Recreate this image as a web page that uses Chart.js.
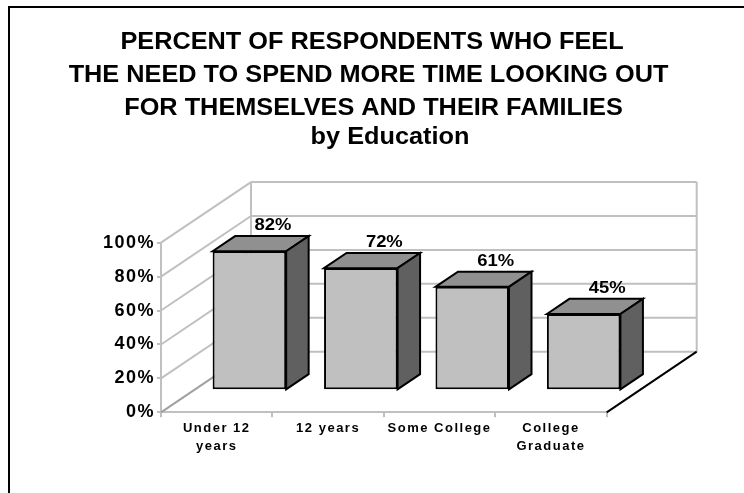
<!DOCTYPE html>
<html>
<head>
<meta charset="utf-8">
<script src="https://cdn.jsdelivr.net/npm/chart.js@4.4.1/dist/chart.umd.min.js"></script>
<style>
  html, body { margin: 0; padding: 0; background: #fff; }
  canvas { display: block; }
</style>
</head>
<body>
<canvas id="eduChart" width="744" height="493"></canvas>
<script>
const titleLines = [
  "PERCENT OF RESPONDENTS WHO FEEL",
  "THE NEED TO SPEND MORE TIME LOOKING OUT",
  "FOR THEMSELVES AND THEIR FAMILIES",
  "by Education"
];
const categories = [["Under 12", "years"], "12 years", "Some College", ["College", "Graduate"]];
const percents = [82, 72, 61, 45];
const yTicks = [0, 20, 40, 60, 80, 100];

// title line placement (centre x, baseline y)
const TITLE_POS = [[372, 48.5], [368.5, 81.5], [373.5, 114.5], [390, 144]];

// oblique "3D" box: full depth offset, and where the bars sit inside it
const DEPTH = { dx: 90, dy: -60.6 };
const BAR_FRONT = 0.363;
const BAR_DEPTH = 0.25;

const WALL = "#c0c0c0";
const FRONT = "#c0c0c0";
const TOP = "#909090";
const SIDE = "#606060";
const FONT = "'Liberation Sans', Arial, sans-serif";

function poly(ctx, pts, fill) {
  ctx.beginPath();
  ctx.moveTo(pts[0][0], pts[0][1]);
  for (let i = 1; i < pts.length; i++) ctx.lineTo(pts[i][0], pts[i][1]);
  ctx.closePath();
  ctx.fillStyle = fill;
  ctx.fill();
  ctx.stroke();
}

// text drawn a bit wider than the font's own proportions
function wideText(ctx, text, x, y, stretch) {
  ctx.save();
  ctx.translate(x, y);
  ctx.scale(stretch, 1);
  ctx.fillText(text, 0, 0);
  ctx.restore();
}

const box3d = {
  id: "box3d",
  beforeDraw(chart) {
    const ctx = chart.ctx;
    ctx.save();
    ctx.fillStyle = "#000";
    ctx.fillRect(8, 6, chart.width - 8, 2);
    ctx.fillRect(8, 6, 2, chart.height - 6);
    ctx.letterSpacing = "0px";
    ctx.font = "bold 23px " + FONT;
    ctx.textAlign = "center";
    ctx.textBaseline = "alphabetic";
    titleLines.forEach((line, i) => wideText(ctx, line, TITLE_POS[i][0], TITLE_POS[i][1], 1.1));
    ctx.restore();
    // tick labels drawn by the scales get a little tracking
    ctx.letterSpacing = "1.5px";
  },
  beforeDatasetsDraw(chart) {
    const { ctx, chartArea: a } = chart;
    const y = chart.scales.y;
    const { dx, dy } = DEPTH;
    ctx.save();
    ctx.lineWidth = 2;
    ctx.strokeStyle = WALL;
    ctx.beginPath();
    yTicks.forEach(v => {
      const py = y.getPixelForValue(v);
      if (v > 0) {
        ctx.moveTo(a.left, py);
        ctx.lineTo(a.left + dx, py + dy);
      }
      ctx.moveTo(a.left + dx, py + dy);
      ctx.lineTo(a.right + dx, py + dy);
    });
    ctx.moveTo(a.left + dx, a.top + dy);
    ctx.lineTo(a.left + dx, a.bottom + dy);
    ctx.moveTo(a.right + dx, a.top + dy);
    ctx.lineTo(a.right + dx, a.bottom + dy);
    ctx.stroke();

    // floor edges
    ctx.strokeStyle = "#a0a0a0";
    ctx.beginPath();
    ctx.moveTo(a.left, a.bottom);
    ctx.lineTo(a.left + dx, a.bottom + dy);
    ctx.stroke();
    ctx.strokeStyle = "#000";
    ctx.beginPath();
    ctx.moveTo(a.right, a.bottom);
    ctx.lineTo(a.right + dx, a.bottom + dy);
    ctx.stroke();
    ctx.restore();
  },
  beforeDatasetDraw(chart) {
    chart.ctx.save();
    chart.ctx.translate(DEPTH.dx * BAR_FRONT, DEPTH.dy * BAR_FRONT);
  },
  afterDatasetDraw(chart, args) {
    const ctx = chart.ctx;
    ctx.restore();
    const fx = DEPTH.dx * BAR_FRONT, fy = DEPTH.dy * BAR_FRONT;
    const bx = DEPTH.dx * BAR_DEPTH, by = DEPTH.dy * BAR_DEPTH;
    const values = chart.data.datasets[args.index].data;
    ctx.save();
    ctx.lineWidth = 2;
    ctx.strokeStyle = "#000";
    ctx.lineJoin = "miter";
    ctx.letterSpacing = "0px";
    args.meta.data.forEach((bar, i) => {
      const { x, y, base, width } = bar.getProps(["x", "y", "base", "width"], true);
      const l = x - width / 2 + fx, r = x + width / 2 + fx;
      const t = y + fy, b = base + fy;
      poly(ctx, [[l, t], [l + bx, t + by], [r + bx, t + by], [r, t]], TOP);
      poly(ctx, [[r, t], [r + bx, t + by], [r + bx, b + by], [r, b]], SIDE);
      ctx.fillStyle = "#000";
      ctx.font = "bold 16px " + FONT;
      ctx.textAlign = "center";
      ctx.textBaseline = "alphabetic";
      wideText(ctx, values[i] + "%", x + fx + bx + 1, t + by - 6, 1.15);
    });
    ctx.restore();
  }
};

Chart.defaults.font.family = FONT;
Chart.defaults.color = "#000";

new Chart(document.getElementById("eduChart"), {
  type: "bar",
  data: {
    labels: categories,
    datasets: [{
      data: percents,
      backgroundColor: FRONT,
      borderColor: "#000",
      borderWidth: 2,
      borderSkipped: false,
      categoryPercentage: 1,
      barPercentage: 0.66,
      clip: false
    }]
  },
  options: {
    responsive: false,
    animation: false,
    layout: { padding: { left: 101, right: 137.3, top: 242.7, bottom: 30.7 } },
    plugins: {
      legend: { display: false },
      tooltip: { enabled: false }
    },
    scales: {
      x: {
        grid: { drawOnChartArea: false, tickLength: 5, color: WALL, lineWidth: 2, offset: true },
        border: { color: WALL, width: 2 },
        ticks: {
          color: "#000",
          font: { size: 13, weight: "bold", lineHeight: 18 / 13 },
          padding: 2.5,
          maxRotation: 0,
          autoSkip: false
        },
        afterFit(scale) { scale.height = 50; }
      },
      y: {
        min: 0,
        max: 100,
        ticks: {
          stepSize: 20,
          callback: v => v + "%",
          color: "#000",
          font: { size: 18, weight: "bold" },
          padding: 2
        },
        grid: { drawOnChartArea: false, tickLength: 4, color: WALL, lineWidth: 2 },
        border: { color: WALL, width: 2 },
        afterFit(scale) { scale.width = 60; }
      }
    }
  },
  plugins: [box3d]
});
</script>
</body>
</html>
